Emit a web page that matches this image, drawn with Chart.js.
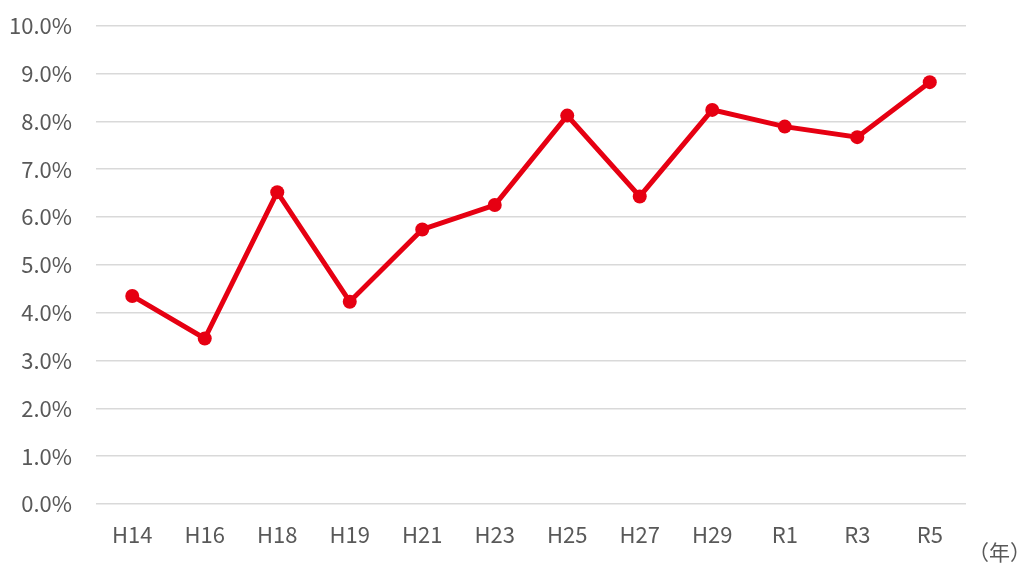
<!DOCTYPE html>
<html>
<head>
<meta charset="utf-8">
<script src="https://cdn.jsdelivr.net/npm/chart.js@4/dist/chart.umd.min.js"></script>
<style>
html,body{margin:0;padding:0;background:#fff;}
#wrap{width:1028px;height:565px;position:relative;}
</style>
</head>
<body>
<div id="wrap"><canvas id="c" width="1028" height="565"></canvas></div>
<script>
const categories = ["H14","H16","H18","H19","H21","H23","H25","H27","H29","R1","R3","R5"];
const values = [4.35, 3.46, 6.52, 4.23, 5.74, 6.25, 8.12, 6.43, 8.24, 7.89, 7.67, 8.82];
const yTicks = [0,1,2,3,4,5,6,7,8,9,10];
const unitLabel = "（年）";

const FONT = "'Noto Sans CJK JP', 'Noto Sans', sans-serif";
const TEXT = "#595959";
const RED = "#E60012";

const unitPlugin = {
  id: 'unit',
  afterDraw(chart) {
    const ctx = chart.ctx;
    ctx.save();
    ctx.font = "21px " + FONT;
    ctx.fillStyle = TEXT;
    ctx.textAlign = "left";
    ctx.textBaseline = "middle";
    ctx.fillText(unitLabel, 968, 552);
    ctx.restore();
  }
};

new Chart(document.getElementById('c'), {
  type: 'line',
  data: {
    labels: categories,
    datasets: [{
      data: values,
      borderColor: RED,
      backgroundColor: RED,
      borderWidth: 5,
      pointRadius: 7,
      pointHoverRadius: 7,
      pointBackgroundColor: RED,
      pointBorderColor: RED,
      pointBorderWidth: 0,
      tension: 0,
      fill: false
    }]
  },
  options: {
    responsive: false,
    animation: false,
    devicePixelRatio: 1,
    layout: { padding: { left: 0, right: 62, top: 25.7, bottom: 0 } },
    plugins: { legend: { display: false }, tooltip: { enabled: false } },
    scales: {
      x: {
        offset: true,
        grid: { display: false, drawTicks: false },
        border: { display: false },
        ticks: { color: TEXT, font: { family: FONT, size: 22 }, padding: 17, maxRotation: 0, autoSkip: false },
        afterFit(s) { s.height = 61; s.paddingLeft = 0; s.paddingRight = 0; }
      },
      y: {
        min: 0, max: 10,
        afterBuildTicks(s) { s.ticks = yTicks.map(v => ({ value: v })); },
        grid: { color: "#d9d9d9", lineWidth: 1.5, drawTicks: false },
        border: { display: false },
        ticks: {
          color: TEXT, font: { family: FONT, size: 22 }, padding: 24,
          callback: v => v.toFixed(1) + "%"
        },
        afterFit(s) { s.width = 96; s.paddingTop = 0; s.paddingBottom = 0; }
      }
    }
  },
  plugins: [unitPlugin]
});
</script>
</body>
</html>
